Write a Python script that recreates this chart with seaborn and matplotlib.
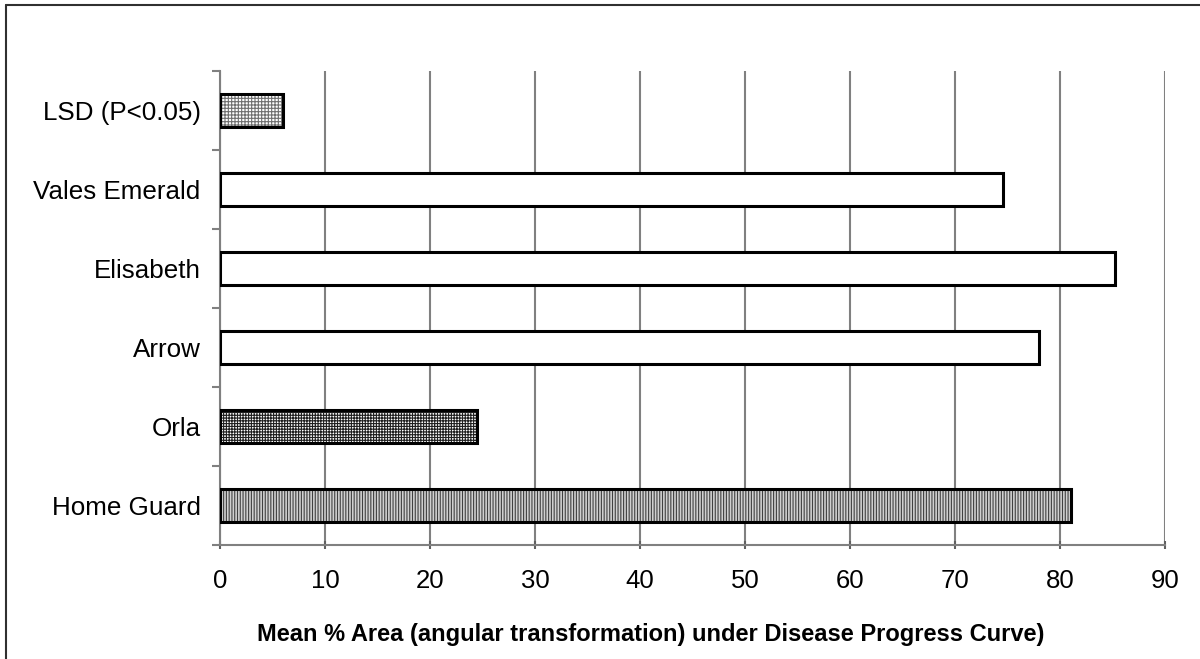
import matplotlib
matplotlib.use("Agg")
import matplotlib.pyplot as plt
import seaborn as sns
import pandas as pd
from matplotlib.patches import Rectangle
from matplotlib.lines import Line2D
from matplotlib.ticker import FixedLocator

# Data (top to bottom as shown)
categories = ["LSD (P<0.05)", "Vales Emerald", "Elisabeth", "Arrow", "Orla", "Home Guard"]
values = [6.0, 74.6, 85.2, 78.0, 24.5, 81.0]
x_ticks = [0, 10, 20, 30, 40, 50, 60, 70, 80, 90]
xlabel = "Mean % Area (angular transformation) under Disease Progress Curve)"

face_colors = ["#ffffff", "#ffffff", "#ffffff", "#ffffff", "#ffffff", "#d0d0d0"]
hatch_colors = ["#707070", "#000000", "#000000", "#000000", "#202020", "#404040"]
hatches = ["+++++", "", "", "", "++++++", "||||||"]

sns.set_theme(style="white")
plt.rcParams["font.family"] = ["Liberation Sans", "DejaVu Sans"]
plt.rcParams["hatch.linewidth"] = 0.8

df = pd.DataFrame({"cat": categories, "val": values})

fig = plt.figure(figsize=(12, 6.59), dpi=100)
ax = fig.add_axes([220 / 1200, 1 - 545 / 659, (1165 - 220) / 1200, (545 - 71) / 659])

sns.barplot(data=df, y="cat", x="val", hue="cat", order=categories,
            palette=face_colors, width=0.42, legend=False, ax=ax, saturation=1)

for p, fc, hc, h in zip(ax.patches, face_colors, hatch_colors, hatches):
    p.set_facecolor(fc)
    p.set_edgecolor(hc)
    p.set_hatch(h)
    p.set_linewidth(0)
    p.set_zorder(3)
    outline = Rectangle(p.get_xy(), p.get_width(), p.get_height(),
                        fill=False, edgecolor="black", linewidth=2.2, zorder=4)
    ax.add_patch(outline)

ax.set_xlim(0, 90)
ax.set_ylim(5.5, -0.5)
ax.xaxis.set_major_locator(FixedLocator(x_ticks))
ax.grid(axis="x", color="#808080", linewidth=1.5, zorder=0)
ax.set_axisbelow(True)

# y ticks at category boundaries, labels at centers
ax.yaxis.set_major_locator(FixedLocator(range(len(categories))))
ax.yaxis.set_minor_locator(FixedLocator([i - 0.5 for i in range(len(categories) + 1)]))
ax.tick_params(axis="y", which="major", length=0, labelsize=18.7, pad=14, labelcolor="black")
ax.tick_params(axis="y", which="minor", length=6, width=1.5, color="#808080", direction="out", left=True)
ax.tick_params(axis="x", which="major", length=6, width=1.5, color="#606060", direction="inout",
               labelsize=18.5, pad=14, labelcolor="black", bottom=True)

for side in ["top", "right"]:
    ax.spines[side].set_visible(False)
for side in ["left", "bottom"]:
    ax.spines[side].set_visible(True)
    ax.spines[side].set_color("#808080")
    ax.spines[side].set_linewidth(1.5)

ax.set_xlabel("")
ax.set_ylabel("")

fig.text(651 / 1200, 1 - 634 / 659, xlabel, ha="center", va="center",
         fontsize=17, fontweight="bold", color="black")

# outer chart border (left and top visible)
fig.add_artist(Line2D([6 / 1200, 6 / 1200], [0, 1 - 5 / 659], transform=fig.transFigure,
                      color="#303030", linewidth=1.5))
fig.add_artist(Line2D([6 / 1200, 1], [1 - 5 / 659, 1 - 5 / 659], transform=fig.transFigure,
                      color="#303030", linewidth=1.5))

fig.savefig("out.png", dpi=100, facecolor="white")
